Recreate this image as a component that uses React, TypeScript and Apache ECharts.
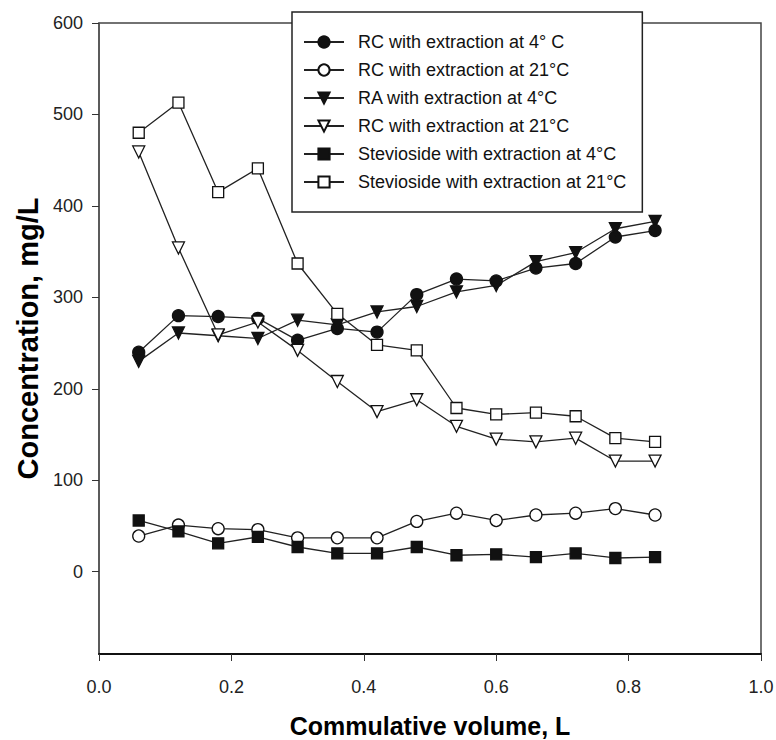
import React, { useEffect, useRef } from "react";
import * as echarts from "echarts";

const X_VALUES = [0.06, 0.12, 0.18, 0.24, 0.3, 0.36, 0.42, 0.48, 0.54, 0.6, 0.66, 0.72, 0.78, 0.84];

const RC_4C = [240, 280, 279, 277, 253, 266, 262, 303, 320, 318, 332, 337, 366, 373];
const RC_21C = [39, 51, 47, 46, 37, 37, 37, 55, 64, 56, 62, 64, 69, 62];
const RA_4C = [230, 261, 258, 255, 275, 270, 284, 290, 306, 313, 339, 349, 375, 383];
const RC_21C_B = [459, 354, 259, 273, 242, 208, 175, 188, 159, 145, 142, 146, 121, 121];
const STEV_4C = [56, 44, 31, 38, 27, 20, 20, 27, 18, 19, 16, 20, 15, 16];
const STEV_21C = [480, 513, 415, 441, 337, 282, 248, 242, 179, 172, 174, 170, 146, 142];

const LEGEND_LABELS = [
  "RC with extraction at 4° C",
  "RC with extraction at 21°C",
  "RA with extraction at 4°C",
  "RC with extraction at 21°C",
  "Stevioside with extraction at 4°C",
  "Stevioside with extraction at 21°C",
];
const SERIES_KEYS = ["s1", "s2", "s3", "s4", "s5", "s6"];

const Y_TICKS = [0, 100, 200, 300, 400, 500, 600];
const X_AXIS_TITLE = "Commulative volume, L";
const Y_AXIS_TITLE = "Concentration, mg/L";

const FONT = "'Liberation Sans', Arial, Helvetica, sans-serif";

export default function App() {
  const ref = useRef<HTMLDivElement>(null);

  useEffect(() => {
    if (!ref.current) return;
    const chart = echarts.init(ref.current, undefined, { renderer: "svg" });

    const seriesDefs = [
      { data: RC_4C, symbol: "circle", size: 12, fill: "#111", rotate: 0 },
      { data: RC_21C, symbol: "circle", size: 12, fill: "#fff", rotate: 0 },
      { data: RA_4C, symbol: "triangle", size: 12, fill: "#111", rotate: 180 },
      { data: RC_21C_B, symbol: "triangle", size: 12, fill: "#fff", rotate: 180 },
      { data: STEV_4C, symbol: "rect", size: 11, fill: "#111", rotate: 0 },
      { data: STEV_21C, symbol: "rect", size: 11, fill: "#fff", rotate: 0 },
    ];

    const series = seriesDefs.map((d, i) => ({
      name: SERIES_KEYS[i],
      type: "line",
      data: X_VALUES.map((x, j) => [x, d.data[j]]),
      symbol: d.symbol,
      symbolSize: d.size,
      symbolRotate: d.rotate,
      showAllSymbol: true,
      itemStyle: { color: d.fill, borderColor: "#111", borderWidth: 1.3, opacity: 1 },
      lineStyle: { color: "#222", width: 1.3 },
      emphasis: { disabled: true },
      z: 3,
    }));

    chart.setOption({
      animation: false,
      backgroundColor: "#fff",
      grid: {
        left: 99,
        right: 15,
        top: 23,
        bottom: 86,
        show: true,
        borderColor: "#444",
        borderWidth: 1.5,
        backgroundColor: "transparent",
        outerBoundsMode: "none",
        containLabel: false,
      },
      legend: {
        orient: "vertical",
        left: 292,
        top: 12,
        padding: [21, 16, 21, 11],
        itemGap: 10,
        itemWidth: 40,
        itemHeight: 14,
        backgroundColor: "#fff",
        borderColor: "#222",
        borderWidth: 1.5,
        data: SERIES_KEYS,
        selectedMode: false,
        formatter: (name: string) => LEGEND_LABELS[SERIES_KEYS.indexOf(name)],
        textStyle: {
          fontFamily: FONT,
          fontSize: 18,
          color: "#111",
          lineHeight: 18,
          padding: [0, 0, 0, 9],
        },
      },
      xAxis: {
        type: "value",
        min: 0,
        max: 1,
        interval: 0.2,
        axisLine: { show: true, onZero: false, lineStyle: { color: "#111", width: 2 } },
        axisTick: { show: true, inside: false, length: 7, lineStyle: { color: "#333", width: 1 } },
        axisLabel: {
          formatter: (v: number) => v.toFixed(1),
          fontFamily: FONT,
          fontSize: 18,
          color: "#222",
          margin: 24,
        },
        splitLine: { show: false },
        name: X_AXIS_TITLE,
        nameLocation: "middle",
        nameGap: 59,
        nameTextStyle: { fontFamily: FONT, fontSize: 25, lineHeight: 25, fontWeight: "bold", color: "#000" },
      },
      yAxis: {
        type: "value",
        min: -90,
        max: 600,
        axisLine: { show: true, onZero: false, lineStyle: { color: "#555", width: 1.5 } },
        axisTick: { show: true, inside: false, length: 7, customValues: Y_TICKS, lineStyle: { color: "#333", width: 1 } },
        axisLabel: {
          customValues: Y_TICKS,
          fontFamily: FONT,
          fontSize: 18,
          color: "#222",
          margin: 16,
        },
        splitLine: { show: false },
        name: Y_AXIS_TITLE,
        nameLocation: "middle",
        nameGap: 55,
        nameTextStyle: { fontFamily: FONT, fontSize: 29, fontWeight: "bold", color: "#000" },
      },
      series,
    });

    return () => chart.dispose();
  }, []);

  return <div ref={ref} style={{ width: 776, height: 740, position: "absolute", left: 0, top: 0 }} />;
}
